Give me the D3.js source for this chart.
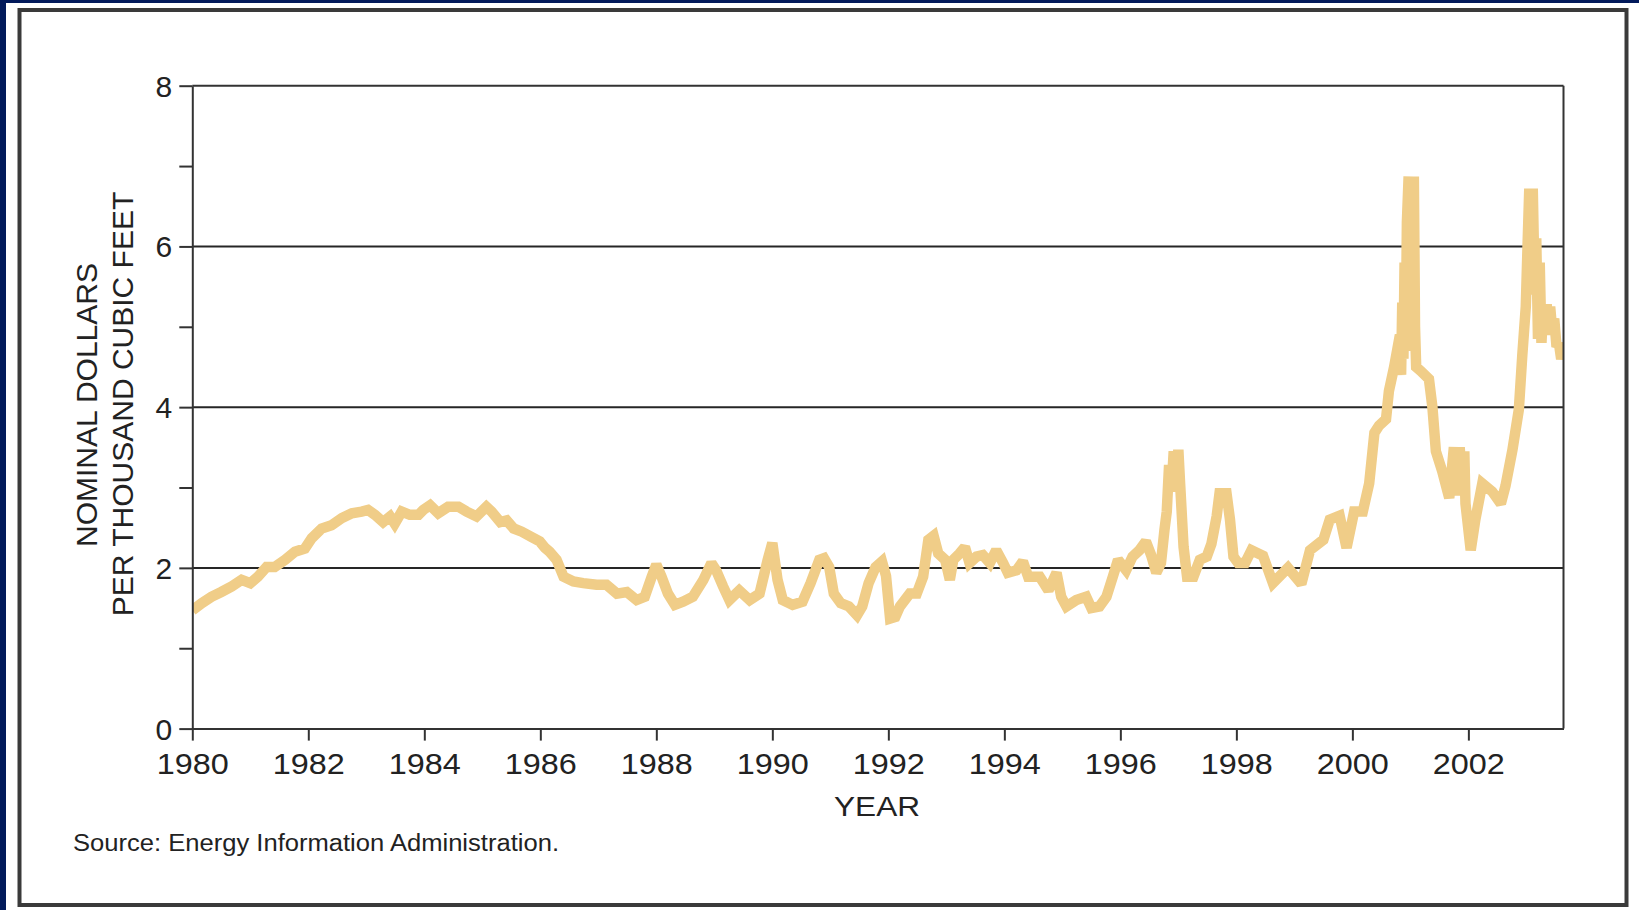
<!DOCTYPE html>
<html>
<head>
<meta charset="utf-8">
<script src="https://cdn.jsdelivr.net/npm/d3@7"></script>
<style>
html,body{margin:0;padding:0;background:#021a5b;}
svg{display:block;}
text{font-family:"Liberation Sans",Arial,Helvetica,sans-serif;fill:#222;}
</style>
</head>
<body>
<svg id="chart" width="1639" height="910"></svg>
<script>
// ---- data (decimal year, nominal $ per thousand cubic feet) ----
const years = [
1980.00,1980.16,1980.33,1980.50,1980.68,1980.85,1981.00,1981.13,1981.28,1981.42,1981.60,1981.77,1981.94,
1982.06,1982.23,1982.40,1982.58,1982.75,1982.92,1983.03,1983.15,1983.29,1983.41,1983.49,1983.61,1983.75,
1983.90,1983.98,1984.10,1984.24,1984.41,1984.59,1984.73,1984.90,1985.07,1985.16,1985.31,1985.42,1985.54,
1985.68,1985.86,1985.99,1986.08,1986.16,1986.28,1986.40,1986.57,1986.74,1986.97,1987.14,1987.32,1987.49,
1987.66,1987.80,1987.92,1988.00,1988.09,1988.20,1988.32,1988.46,1988.63,1988.81,1988.95,1989.03,1989.15,
1989.26,1989.43,1989.61,1989.78,1989.92,1990.00,1990.09,1990.18,1990.35,1990.52,1990.66,1990.81,1990.89,
1990.98,1991.06,1991.18,1991.32,1991.46,1991.55,1991.66,1991.78,1991.89,1991.96,1992.03,1992.12,1992.20,
1992.37,1992.49,1992.60,1992.69,1992.78,1992.86,1992.98,1993.06,1993.12,1993.23,1993.32,1993.40,1993.52,
1993.63,1993.75,1993.86,1993.98,1994.06,1994.21,1994.32,1994.41,1994.61,1994.76,1994.90,1994.98,1995.07,
1995.24,1995.41,1995.50,1995.64,1995.76,1995.87,1995.96,1996.10,1996.21,1996.33,1996.44,1996.53,1996.62,
1996.70,1996.76,1996.80,1996.84,1996.88,1996.92,1996.96,1997.00,1997.03,1997.09,1997.15,1997.26,1997.37,
1997.49,1997.57,1997.66,1997.71,1997.83,1997.89,1997.95,1998.03,1998.15,1998.26,1998.46,1998.63,1998.89,
1999.12,1999.27,1999.50,1999.61,1999.78,1999.90,2000.03,2000.18,2000.29,2000.38,2000.46,2000.58,2000.63,
2000.72,2000.82,2000.84,2000.86,2000.88,2000.90,2000.92,2000.94,2000.97,2000.99,2001.02,2001.04,2001.06,
2001.08,2001.10,2001.18,2001.32,2001.38,2001.44,2001.55,2001.67,2001.75,2001.80,2001.85,2001.90,2001.93,
2001.95,2002.04,2002.12,2002.24,2002.41,2002.56,2002.64,2002.76,2002.87,2002.93,2002.99,2003.02,2003.05,
2003.08,2003.11,2003.14,2003.17,2003.20,2003.23,2003.26,2003.29,2003.32,2003.35,2003.38,2003.41,2003.44,
2003.48,2003.52,2003.56,2003.60,2003.63
];
const prices = [
1.47,1.56,1.64,1.70,1.77,1.85,1.81,1.89,2.01,2.01,2.10,2.20,2.24,
2.37,2.49,2.53,2.62,2.68,2.70,2.72,2.66,2.57,2.64,2.55,2.70,2.66,
2.66,2.72,2.78,2.68,2.76,2.76,2.70,2.64,2.76,2.70,2.57,2.59,2.49,
2.45,2.38,2.33,2.25,2.20,2.10,1.89,1.83,1.81,1.79,1.79,1.68,1.70,
1.60,1.64,1.89,2.04,1.89,1.68,1.54,1.58,1.64,1.85,2.06,1.97,1.77,
1.60,1.72,1.60,1.68,2.10,2.31,1.85,1.60,1.54,1.58,1.81,2.10,2.12,
2.01,1.68,1.56,1.52,1.41,1.52,1.81,2.01,2.08,1.90,1.37,1.39,1.52,
1.68,1.68,1.89,2.35,2.40,2.18,2.10,1.85,2.10,2.18,2.26,2.06,2.14,
2.16,2.06,2.22,2.06,1.94,1.97,2.08,1.89,1.89,1.72,1.94,1.64,1.52,
1.60,1.64,1.50,1.52,1.64,1.89,2.10,1.97,2.14,2.22,2.33,2.16,1.94,
2.06,2.47,2.70,3.28,2.95,3.45,3.05,3.47,3.05,2.26,1.89,1.89,2.10,
2.14,2.30,2.64,2.93,2.93,2.60,2.14,2.06,2.06,2.22,2.15,1.81,2.00,
1.80,2.22,2.35,2.60,2.65,2.25,2.70,2.70,3.05,3.68,3.77,3.85,4.20,
4.50,4.90,4.40,5.30,4.60,5.80,4.70,6.30,6.87,5.20,6.87,5.90,6.87,
5.00,4.50,4.45,4.35,4.00,3.45,3.20,2.87,3.50,2.90,3.50,3.00,3.45,
2.80,2.22,2.60,3.05,2.95,2.80,3.02,3.47,3.97,4.65,5.25,6.00,6.72,
5.40,6.72,5.60,6.10,4.85,5.80,4.80,5.25,4.90,5.28,4.90,5.25,5.00,
5.10,4.75,4.80,4.60,4.70
];
const xTickYears = [1980,1982,1984,1986,1988,1990,1992,1994,1996,1998,2000,2002];
const yTicks = [0,1,2,3,4,5,6,7,8];
const yLabelTicks = [0,2,4,6,8];
const gridValues = [2,4,6];
const yTitle = ["NOMINAL DOLLARS","PER THOUSAND CUBIC FEET"];
const xTitle = "YEAR";
const sourceText = "Source: Energy Information Administration.";

const svg = d3.select("#chart");
const W = 1639, H = 910;
const plotL = 192.3, plotR = 1563.5, plotT = 85.7, plotB = 728.6;

// background panel
svg.append("rect").attr("x",0).attr("y",0).attr("width",W).attr("height",H).attr("fill","#021a5b");
svg.append("rect").attr("x",6).attr("y",3).attr("width",W-6).attr("height",H-3).attr("fill","#ffffff");
svg.append("rect").attr("x",19.5).attr("y",10).attr("width",1607).attr("height",895)
  .attr("fill","none").attr("stroke","#3a3a3a").attr("stroke-width",4);

svg.append("defs").append("clipPath").attr("id","plotclip")
  .append("rect").attr("x",plotL).attr("y",plotT).attr("width",plotR-plotL).attr("height",plotB-plotT);

const x = d3.scaleLinear().domain([1980, 2003.64]).range([plotL, plotR]);
const y = d3.scaleLinear().domain([0, 8]).range([plotB, plotT]);

// gridlines
svg.append("g").selectAll("line").data(gridValues).join("line")
  .attr("x1",plotL).attr("x2",plotR).attr("y1",d=>y(d)).attr("y2",d=>y(d))
  .attr("stroke","#262626").attr("stroke-width",2);

// data line
const pts = years.map((yr,i)=>[yr, prices[i]]);
svg.append("path").datum(pts).attr("clip-path","url(#plotclip)")
  .attr("fill","none").attr("stroke","#f0cd88").attr("stroke-width",10.5)
  .attr("stroke-linejoin","miter").attr("stroke-miterlimit",2)
  .attr("d", d3.line().x(d=>x(d[0])).y(d=>y(d[1])));

// plot border (top & right)
svg.append("line").attr("x1",plotL).attr("x2",plotR).attr("y1",plotT).attr("y2",plotT)
  .attr("stroke","#333").attr("stroke-width",2);
svg.append("line").attr("x1",plotR).attr("x2",plotR).attr("y1",plotT).attr("y2",plotB)
  .attr("stroke","#333").attr("stroke-width",2);

// left axis
const yAxis = svg.append("g").attr("transform",`translate(${plotL},0)`)
  .call(d3.axisLeft(y).tickValues(yTicks).tickSize(13).tickSizeOuter(0)
        .tickFormat(d=> yLabelTicks.includes(d) ? String(d) : ""));
yAxis.select(".domain").attr("stroke","#333").attr("stroke-width",2);
yAxis.selectAll(".tick line").attr("stroke","#333").attr("stroke-width",2);
yAxis.selectAll(".tick text").attr("x",-20).attr("dy","0.35em")
  .style("font-size","30px").attr("fill","#222");

// bottom axis
const xAxis = svg.append("g").attr("transform",`translate(0,${plotB})`)
  .call(d3.axisBottom(x).tickValues(xTickYears).tickSize(12).tickSizeOuter(0).tickFormat(d3.format("d")));
xAxis.select(".domain").attr("stroke","#333").attr("stroke-width",2);
xAxis.selectAll(".tick line").attr("stroke","#333").attr("stroke-width",2);
xAxis.selectAll(".tick text").attr("y",45.5).attr("dy",0)
  .style("font-size","30px").attr("fill","#222")
  .attr("textLength",72).attr("lengthAdjust","spacingAndGlyphs");

// axis titles
svg.append("text").attr("x",877).attr("y",816).attr("text-anchor","middle")
  .style("font-size","27px").attr("textLength",86).attr("lengthAdjust","spacingAndGlyphs")
  .text(xTitle);
svg.append("text").attr("transform","translate(97,405) rotate(-90)").attr("text-anchor","middle")
  .style("font-size","30px").text(yTitle[0]);
svg.append("text").attr("transform","translate(133,404) rotate(-90)").attr("text-anchor","middle")
  .style("font-size","30px").text(yTitle[1]);

// source note
svg.append("text").attr("x",73).attr("y",851)
  .style("font-size","23px").attr("fill","#333").attr("textLength",486).attr("lengthAdjust","spacingAndGlyphs")
  .text(sourceText);
</script>
</body>
</html>
